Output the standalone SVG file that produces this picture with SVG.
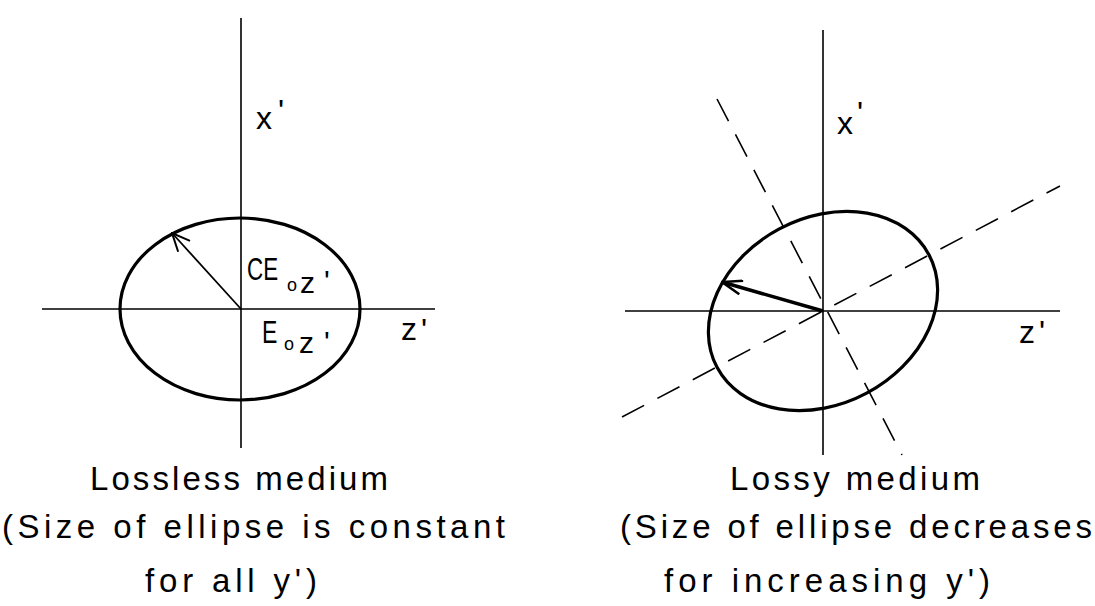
<svg xmlns="http://www.w3.org/2000/svg" width="1095" height="606" viewBox="0 0 1095 606">
<style>
.axis{stroke:#000;stroke-width:1.6;fill:none}
.ell{stroke:#000;stroke-width:3.2;fill:none}
.dash{stroke:#000;stroke-width:1.6;stroke-dasharray:25 15;fill:none}
.lbl{font-family:"Liberation Sans",Arial,sans-serif;fill:#000}
.cap{font-family:"Liberation Sans",Arial,sans-serif;font-size:33px;fill:#000}
</style>
<defs>
<marker id="headThin" markerUnits="userSpaceOnUse" viewBox="0 0 20 18" refX="19" refY="9" markerWidth="20" markerHeight="18" orient="auto"><path d="M1,1 L19,9 L1,17" fill="none" stroke="#000" stroke-width="2"/></marker>
<marker id="headBold" markerUnits="userSpaceOnUse" viewBox="0 0 22 16" refX="21" refY="8" markerWidth="22" markerHeight="16" orient="auto"><path d="M1,1 L21,8 L1,15" fill="none" stroke="#000" stroke-width="2.5"/></marker>
</defs>
<rect width="1095" height="606" fill="#fff"/>

<g id="connectors">
  <line class="axis" x1="241" y1="18" x2="241" y2="448"/>
  <line class="axis" x1="42" y1="309" x2="435" y2="309"/>
  <line x1="241" y1="309" x2="172" y2="233" stroke="#000" stroke-width="1.8" marker-end="url(#headThin)"/>
  <line class="axis" x1="823" y1="30" x2="823" y2="455"/>
  <line class="axis" x1="625" y1="311" x2="1060" y2="311"/>
  <line class="dash" x1="622" y1="417" x2="1060" y2="186"/>
  <line class="dash" x1="717" y1="99" x2="902" y2="455"/>
  <line x1="823" y1="311" x2="722" y2="282" stroke="#000" stroke-width="3.5" marker-end="url(#headBold)"/>
</g>

<g id="ellipse-lossless">
  <ellipse class="ell" cx="240" cy="309" rx="120" ry="91"/>
</g>
<g id="ellipse-lossy">
  <ellipse class="ell" cx="823" cy="311" rx="120" ry="93" transform="rotate(-28 823 311)"/>
</g>

<g id="label-x-left">
  <text class="lbl" font-size="32" x="256" y="129">x<tspan x="278" y="122">'</tspan></text>
</g>
<g id="label-z-left">
  <text class="lbl" font-size="32" x="401" y="340">z<tspan x="421" y="341">'</tspan></text>
</g>
<g id="label-CE">
  <text class="lbl" font-size="32" transform="translate(247 280) scale(0.7 1)">CE</text>
  <text class="lbl"><tspan x="287" y="291" font-size="18">o</tspan><tspan x="300" y="293" font-size="30">z</tspan><tspan x="324" y="291" font-size="30">'</tspan></text>
</g>
<g id="label-E">
  <text class="lbl" font-size="32" transform="translate(262 343) scale(0.72 1)">E</text>
  <text class="lbl"><tspan x="284" y="350" font-size="18">o</tspan><tspan x="299" y="353" font-size="30">z</tspan><tspan x="324" y="352" font-size="30">'</tspan></text>
</g>
<g id="label-x-right">
  <text class="lbl" font-size="32" x="837" y="134">x<tspan x="857" y="124">'</tspan></text>
</g>
<g id="label-z-right">
  <text class="lbl" font-size="32" x="1019" y="343">z<tspan x="1039" y="343">'</tspan></text>
</g>

<g id="caption-left">
  <text class="cap" x="90" y="490" textLength="298" lengthAdjust="spacing">Lossless medium</text>
  <text class="cap" x="2" y="538" textLength="503" lengthAdjust="spacing">(Size of ellipse is constant</text>
  <text class="cap" x="145" y="592" textLength="172" lengthAdjust="spacing">for all y')</text>
</g>
<g id="caption-right">
  <text class="cap" x="730" y="490" textLength="250" lengthAdjust="spacing">Lossy medium</text>
  <text class="cap" x="620" y="538" textLength="472" lengthAdjust="spacing">(Size of ellipse decreases</text>
  <text class="cap" x="664" y="592" textLength="326" lengthAdjust="spacing">for increasing y')</text>
</g>
</svg>
